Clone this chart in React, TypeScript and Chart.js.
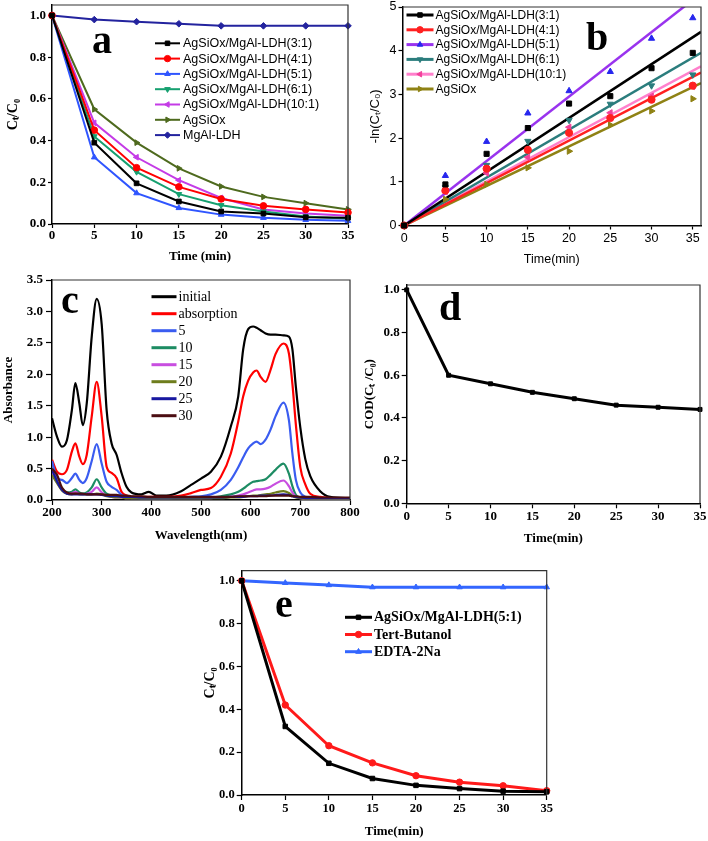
import React, { useEffect, useRef } from 'react';
import { Chart, registerables } from 'chart.js';

Chart.register(...registerables);

const PAGE_W = 708;
const PAGE_H = 841;
const SERIF = '"Liberation Serif", "Times New Roman", serif';
const SANS = '"Liberation Sans", Arial, sans-serif';

// ---------------- data ----------------
const timePoints = [0, 5, 10, 15, 20, 25, 30, 35];

// panel a : Ct/C0 vs time
const labelsA = [
  'AgSiOx/MgAl-LDH(3:1)',
  'AgSiOx/MgAl-LDH(4:1)',
  'AgSiOx/MgAl-LDH(5:1)',
  'AgSiOx/MgAl-LDH(6:1)',
  'AgSiOx/MgAl-LDH(10:1)',
  'AgSiOx',
  'MgAl-LDH',
];
const a31 = [1.0, 0.39, 0.195, 0.108, 0.06, 0.05, 0.032, 0.03];
const a41 = [1.0, 0.45, 0.27, 0.178, 0.12, 0.087, 0.07, 0.055];
const a51 = [1.0, 0.32, 0.148, 0.077, 0.045, 0.03, 0.02, 0.015];
const a61 = [1.0, 0.42, 0.25, 0.143, 0.09, 0.06, 0.036, 0.025];
const a101 = [1.0, 0.485, 0.32, 0.21, 0.125, 0.07, 0.05, 0.04];
const aAgSiOx = [1.0, 0.55, 0.39, 0.267, 0.18, 0.13, 0.1, 0.07];
const aMgAl = [1.0, 0.98, 0.97, 0.96, 0.95, 0.95, 0.95, 0.95];

// panel b : -ln(Ct/C0) vs time, points and fitted lines
const labelsB = [
  'AgSiOx/MgAl-LDH(3:1)',
  'AgSiOx/MgAl-LDH(4:1)',
  'AgSiOx/MgAl-LDH(5:1)',
  'AgSiOx/MgAl-LDH(6:1)',
  'AgSiOx/MgAl-LDH(10:1)',
  'AgSiOx',
];
const b31 = [0, 0.94, 1.64, 2.23, 2.79, 2.96, 3.6, 3.95];
const b41 = [0, 0.8, 1.3, 1.73, 2.12, 2.46, 2.88, 3.2];
const b51 = [0, 1.14, 1.92, 2.57, 3.08, 3.52, 4.28, 4.75];
const b61 = [0, 0.87, 1.38, 1.93, 2.41, 2.78, 3.2, 3.45];
const b101 = [0, 0.77, 1.2, 1.56, 2.25, 2.58, 2.96, 3.18];
const bAgSiOx = [0, 0.6, 0.94, 1.32, 1.7, 2.3, 2.62, 2.9];
const fitTimes = [0, 36];
const fit31 = [0, 4.43];
const fit41 = [0, 3.5];
const fit51 = [0, 5.31];
const fit61 = [0, 3.95];
const fit101 = [0, 3.64];
const fitAgSiOx = [0, 3.26];

// panel c : UV-vis spectra
const wavelengths = [200, 210, 220, 230, 240, 247, 255, 262, 270, 280, 290, 300, 310, 320, 330, 340, 350, 360, 380, 395, 410, 430, 460, 480, 500, 520, 540, 560, 575, 585, 595, 605, 612, 620, 630, 640, 650, 666, 677, 684, 691, 700, 710, 720, 740, 760, 800];
const specLabels = ['initial', 'absorption', '5', '10', '15', '20', '25', '30'];
const specInitial = [1.3, 1.01, 0.85, 0.95, 1.43, 1.86, 1.54, 1.19, 1.54, 2.6, 3.2, 2.8, 1.43, 0.9, 0.72, 0.43, 0.21, 0.12, 0.09, 0.13, 0.07, 0.07, 0.14, 0.24, 0.34, 0.45, 0.69, 1.17, 1.65, 2.4, 2.72, 2.76, 2.74, 2.7, 2.65, 2.63, 2.63, 2.62, 2.6, 2.4, 1.8, 1.15, 0.65, 0.38, 0.14, 0.05, 0.03];
const specAbsorption = [0.64, 0.45, 0.41, 0.48, 0.77, 0.9, 0.69, 0.57, 0.72, 1.33, 1.88, 1.33, 0.53, 0.43, 0.35, 0.13, 0.07, 0.05, 0.05, 0.05, 0.05, 0.05, 0.07, 0.11, 0.16, 0.19, 0.37, 0.74, 1.25, 1.65, 1.9, 2.03, 2.06, 1.96, 1.88, 2.07, 2.32, 2.49, 2.33, 1.85, 1.2, 0.52, 0.25, 0.1, 0.05, 0.03, 0.02];
const spec5 = [0.62, 0.35, 0.32, 0.27, 0.35, 0.42, 0.32, 0.27, 0.35, 0.62, 0.89, 0.58, 0.29, 0.21, 0.16, 0.08, 0.05, 0.04, 0.03, 0.03, 0.03, 0.03, 0.04, 0.05, 0.06, 0.09, 0.16, 0.32, 0.52, 0.68, 0.82, 0.9, 0.93, 0.89, 0.96, 1.12, 1.33, 1.55, 1.27, 0.74, 0.32, 0.12, 0.05, 0.04, 0.03, 0.02, 0.02];
const spec10 = [0.45, 0.3, 0.18, 0.12, 0.13, 0.17, 0.12, 0.1, 0.12, 0.2, 0.33, 0.2, 0.1, 0.07, 0.06, 0.05, 0.04, 0.03, 0.03, 0.03, 0.03, 0.03, 0.03, 0.03, 0.03, 0.04, 0.06, 0.09, 0.13, 0.18, 0.24, 0.29, 0.3, 0.31, 0.33, 0.4, 0.48, 0.58, 0.42, 0.22, 0.08, 0.04, 0.03, 0.03, 0.02, 0.02, 0.02];
const spec15 = [0.42, 0.28, 0.16, 0.11, 0.11, 0.13, 0.1, 0.09, 0.1, 0.13, 0.2, 0.12, 0.07, 0.05, 0.04, 0.04, 0.03, 0.03, 0.03, 0.03, 0.03, 0.03, 0.03, 0.03, 0.03, 0.03, 0.04, 0.05, 0.07, 0.09, 0.12, 0.15, 0.17, 0.17, 0.18, 0.21, 0.26, 0.31, 0.22, 0.12, 0.05, 0.03, 0.02, 0.02, 0.02, 0.02, 0.02];
const spec20 = [0.4, 0.27, 0.15, 0.1, 0.09, 0.1, 0.09, 0.09, 0.09, 0.09, 0.1, 0.09, 0.06, 0.05, 0.04, 0.04, 0.03, 0.03, 0.03, 0.03, 0.03, 0.03, 0.03, 0.03, 0.03, 0.03, 0.03, 0.04, 0.04, 0.05, 0.06, 0.07, 0.07, 0.08, 0.09, 0.1, 0.12, 0.14, 0.11, 0.07, 0.04, 0.03, 0.02, 0.02, 0.02, 0.02, 0.02];
const spec25 = [0.48, 0.3, 0.16, 0.1, 0.09, 0.09, 0.09, 0.09, 0.09, 0.09, 0.09, 0.08, 0.07, 0.06, 0.06, 0.05, 0.05, 0.05, 0.04, 0.04, 0.04, 0.04, 0.04, 0.04, 0.04, 0.04, 0.04, 0.05, 0.05, 0.05, 0.06, 0.06, 0.06, 0.07, 0.07, 0.07, 0.08, 0.09, 0.08, 0.06, 0.05, 0.04, 0.03, 0.03, 0.03, 0.03, 0.03];
const spec30 = [0.5, 0.4, 0.2, 0.12, 0.1, 0.1, 0.1, 0.1, 0.09, 0.09, 0.09, 0.09, 0.08, 0.08, 0.08, 0.07, 0.07, 0.06, 0.06, 0.05, 0.05, 0.05, 0.05, 0.05, 0.05, 0.05, 0.05, 0.05, 0.06, 0.06, 0.06, 0.06, 0.06, 0.06, 0.06, 0.07, 0.07, 0.07, 0.07, 0.06, 0.06, 0.05, 0.05, 0.05, 0.04, 0.04, 0.04];

// panel d : COD
const codRatio = [1.0, 0.6, 0.56, 0.52, 0.49, 0.46, 0.45, 0.44];

// panel e : scavengers
const labelsE = ['AgSiOx/MgAl-LDH(5:1)', 'Tert-Butanol', 'EDTA-2Na'];
const eCatalyst = [1.0, 0.32, 0.148, 0.077, 0.045, 0.03, 0.018, 0.015];
const eTertButanol = [1.0, 0.42, 0.23, 0.15, 0.09, 0.06, 0.043, 0.02];
const eEDTA = [1.0, 0.99, 0.98, 0.97, 0.97, 0.97, 0.97, 0.97];

// ---------------- styles ----------------
const colorsA = ['#000000', '#ff0000', '#2f55ff', '#16a070', '#c43be6', '#4e6a1e', '#23239e'];
const stylesA = ['rect', 'circle', 'triangle', 'triangle', 'triangle', 'triangle', 'rectRot'];
const rotA = [0, 0, 0, 180, 270, 90, 0];
const lineColorsB = ['#000000', '#ff2020', '#9933ee', '#2b7d7d', '#ff80cc', '#8f8214'];
const markColorsB = ['#000000', '#ff2020', '#2727ee', '#2b7d7d', '#f2409a', '#8f8214'];
const colorsC = ['#000000', '#ff0000', '#3a5cf0', '#1d8c63', '#c84ee0', '#6e7d1d', '#1818a0', '#4b0d12'];
const colorsE = ['#000000', '#ff1a1a', '#3366ff'];
const stylesE = ['rect', 'circle', 'triangle'];

const xy = (xs: number[], ys: number[]) => xs.map((x, i) => ({ x, y: ys[i] }));

function drawMarker(ctx: any, style: string, x: number, y: number, r: number, rotDeg: number, color: string) {
  ctx.save();
  ctx.fillStyle = color;
  ctx.strokeStyle = color;
  ctx.lineWidth = 1;
  ctx.translate(x, y);
  ctx.rotate((rotDeg * Math.PI) / 180);
  ctx.beginPath();
  if (style === 'rect') {
    const s = r * Math.SQRT1_2;
    ctx.rect(-s, -s, 2 * s, 2 * s);
  } else if (style === 'circle') {
    ctx.arc(0, 0, r, 0, Math.PI * 2);
  } else if (style === 'rectRot') {
    ctx.moveTo(0, -r);
    ctx.lineTo(r, 0);
    ctx.lineTo(0, r);
    ctx.lineTo(-r, 0);
    ctx.closePath();
  } else {
    let a = 0;
    ctx.moveTo(Math.sin(a) * r, -Math.cos(a) * r);
    a += (2 * Math.PI) / 3;
    ctx.lineTo(Math.sin(a) * r, -Math.cos(a) * r);
    a += (2 * Math.PI) / 3;
    ctx.lineTo(Math.sin(a) * r, -Math.cos(a) * r);
    ctx.closePath();
  }
  ctx.fill();
  ctx.stroke();
  ctx.restore();
}

function decoPlugin(d: any) {
  return {
    id: 'deco',
    afterDatasetsDraw(chart: any) {
      if (!d.frame) return;
      const { ctx, chartArea: a } = chart;
      ctx.save();
      ctx.strokeStyle = '#333';
      ctx.lineWidth = 1.2;
      ctx.beginPath();
      ctx.moveTo(a.left, a.top);
      ctx.lineTo(a.right, a.top);
      ctx.lineTo(a.right, a.bottom);
      ctx.stroke();
      ctx.restore();
    },
    afterDraw(chart: any) {
      const ctx = chart.ctx;
      ctx.save();
      ctx.fillStyle = '#000';
      ctx.font = `bold 40px ${SERIF}`;
      ctx.textAlign = 'left';
      ctx.textBaseline = 'alphabetic';
      ctx.fillText(d.letter.text, d.letter.x, d.letter.y);
      const L = d.legend;
      if (L) {
        L.entries.forEach((e: any, i: number) => {
          const y = L.y0 + i * L.dy;
          ctx.strokeStyle = e.line;
          ctx.lineWidth = L.lineWidth;
          ctx.beginPath();
          ctx.moveTo(L.x0, y);
          ctx.lineTo(L.x0 + L.len, y);
          ctx.stroke();
          if (e.marker) drawMarker(ctx, e.marker, L.x0 + L.len / 2, y, L.radius, e.rotation || 0, e.markerColor || e.line);
          ctx.fillStyle = '#000';
          ctx.font = L.font;
          ctx.textAlign = 'left';
          ctx.textBaseline = 'middle';
          ctx.fillText(e.label, L.x0 + L.len + L.gap, y + 0.5);
        });
      }
      ctx.restore();
    },
  };
}

function buildScales(g: any, xs: any, ys: any) {
  const yLh = ys.titleFont.size * 1.2;
  const xLh = xs.titleFont.size * 1.2;
  const yLeft = g.yTitleX - yLh / 2;
  const xBottom = g.xTitleY + xLh / 2;
  const padding = { left: yLeft, top: g.T, right: PAGE_W - g.R, bottom: PAGE_H - xBottom };
  const mk = (s: any, horizontal: boolean) => ({
    type: 'linear',
    position: horizontal ? 'bottom' : 'left',
    min: s.min,
    max: s.max,
    ticks: {
      stepSize: s.step,
      includeBounds: false,
      autoSkip: false,
      maxRotation: 0,
      minRotation: 0,
      padding: s.tickPad,
      color: '#000',
      font: s.tickFont,
      callback: (v: any) => Number(v).toFixed(s.decimals),
    },
    grid: {
      display: true,
      drawOnChartArea: false,
      drawTicks: true,
      tickLength: s.tickLen,
      tickColor: '#000',
      tickWidth: 1.2,
    },
    border: { display: true, color: '#000', width: 1.5 },
    title: { display: true, text: s.title, color: '#000', font: s.titleFont, padding: 0 },
    afterFit: (sc: any) => {
      if (horizontal) sc.height = xBottom - g.B;
      else sc.width = g.L - yLeft;
      sc.paddingTop = 0;
      sc.paddingBottom = 0;
      sc.paddingLeft = 0;
      sc.paddingRight = 0;
    },
  });
  return { padding, scales: { x: mk(xs, true), y: mk(ys, false) } };
}

function makeConfig(geom: any, xs: any, ys: any, datasets: any[], deco: any) {
  const { padding, scales } = buildScales(geom, xs, ys);
  return {
    type: 'line',
    data: { datasets },
    options: {
      responsive: false,
      maintainAspectRatio: false,
      animation: false,
      devicePixelRatio: 1,
      events: [],
      layout: { padding },
      plugins: { legend: { display: false }, tooltip: { enabled: false }, title: { display: false } },
      elements: { line: { tension: 0 } },
      scales,
    },
    plugins: [decoPlugin(deco)],
  } as any;
}

const serifBold = (size: number) => ({ family: SERIF, size, weight: 'bold' });
const sans = (size: number) => ({ family: SANS, size, weight: 'normal' });

// ---------------- panel configs ----------------
function configA() {
  const series = [a31, a41, a51, a61, a101, aAgSiOx, aMgAl];
  const datasets = series.map((ys, i) => ({
    label: labelsA[i],
    data: xy(timePoints, ys),
    borderColor: colorsA[i],
    backgroundColor: colorsA[i],
    borderWidth: 2,
    pointStyle: stylesA[i],
    pointRotation: rotA[i],
    pointRadius: 3.3,
    pointBorderWidth: 1,
    clip: false,
  }));
  return makeConfig(
    { L: 52, T: 5, R: 348, B: 224, yTitleX: 13, xTitleY: 257 },
    { min: 0, max: 35, step: 5, decimals: 0, tickFont: serifBold(13), title: 'Time (min)', titleFont: serifBold(13), tickLen: 4, tickPad: 0 },
    { min: 0, max: 1.05, step: 0.2, decimals: 1, tickFont: serifBold(13), title: 'Cₜ/C₀', titleFont: serifBold(14), tickLen: 4, tickPad: 2 },
    datasets,
    {
      frame: true,
      letter: { text: 'a', x: 92, y: 53 },
      legend: {
        x0: 155, len: 25, gap: 3, y0: 43.3, dy: 15.3, font: `12.5px ${SANS}`, lineWidth: 2, radius: 3.2,
        entries: labelsA.map((l, i) => ({ label: l, line: colorsA[i], marker: stylesA[i], rotation: rotA[i] })),
      },
    }
  );
}

function configB() {
  const pts = [b31, b41, b51, b61, b101, bAgSiOx];
  const fits = [fit31, fit41, fit51, fit61, fit101, fitAgSiOx];
  const fitSets = fits.map((ys, i) => ({
    label: labelsB[i] + ' fit',
    data: xy(fitTimes, ys),
    borderColor: lineColorsB[i],
    backgroundColor: lineColorsB[i],
    borderWidth: 2.5,
    pointRadius: 0,
  }));
  const ptSets = pts.map((ys, i) => ({
    label: labelsB[i],
    data: xy(timePoints, ys),
    borderColor: markColorsB[i],
    backgroundColor: markColorsB[i],
    showLine: false,
    pointStyle: stylesA[i],
    pointRotation: rotA[i],
    pointRadius: 3.6,
    pointBorderWidth: 1,
    clip: false,
  }));
  return makeConfig(
    { L: 402.5, T: 7, R: 701, B: 225.5, yTitleX: 375, xTitleY: 260 },
    { min: -0.2, max: 36, step: 5, decimals: 0, tickFont: sans(12.5), title: 'Time(min)', titleFont: sans(12.5), tickLen: 4, tickPad: 2 },
    { min: 0, max: 5, step: 1, decimals: 0, tickFont: sans(12.5), title: '-ln(Cₜ/C₀)', titleFont: sans(13), tickLen: 4, tickPad: 2 },
    [...ptSets, ...fitSets],
    {
      frame: true,
      letter: { text: 'b', x: 586, y: 50 },
      legend: {
        x0: 406.5, len: 27, gap: 2, y0: 15, dy: 14.8, font: `12px ${SANS}`, lineWidth: 3, radius: 3.2,
        entries: labelsB.map((l, i) => ({ label: l, line: lineColorsB[i], marker: stylesA[i], rotation: rotA[i], markerColor: markColorsB[i] })),
      },
    }
  );
}

function configC() {
  const spectra = [specInitial, specAbsorption, spec5, spec10, spec15, spec20, spec25, spec30];
  const n = spectra.length;
  const datasets = spectra.map((ys, i) => ({
    label: specLabels[i],
    data: xy(wavelengths, ys),
    borderColor: colorsC[i],
    backgroundColor: colorsC[i],
    borderWidth: 2.2,
    pointRadius: 0,
    cubicInterpolationMode: 'monotone',
    order: n - i,
  }));
  return makeConfig(
    { L: 52, T: 280, R: 350, B: 500, yTitleX: 9, xTitleY: 536 },
    { min: 200, max: 800, step: 100, decimals: 0, tickFont: serifBold(13), title: 'Wavelength(nm)', titleFont: serifBold(13), tickLen: 5, tickPad: 0 },
    { min: 0, max: 3.5, step: 0.5, decimals: 1, tickFont: serifBold(13), title: 'Absorbance', titleFont: serifBold(13), tickLen: 6, tickPad: 3 },
    datasets,
    {
      frame: true,
      letter: { text: 'c', x: 61, y: 313 },
      legend: {
        x0: 151.5, len: 25, gap: 2, y0: 296.7, dy: 17, font: `14px ${SERIF}`, lineWidth: 3, radius: 0,
        entries: specLabels.map((l, i) => ({ label: l, line: colorsC[i] })),
      },
    }
  );
}

function configD() {
  const datasets = [
    {
      label: 'COD',
      data: xy(timePoints, codRatio),
      borderColor: '#000',
      backgroundColor: '#000',
      borderWidth: 3,
      pointStyle: 'rect',
      pointRadius: 2.8,
      pointBorderWidth: 1,
      clip: false,
    },
  ];
  return makeConfig(
    { L: 406.7, T: 285, R: 700, B: 503.3, yTitleX: 370, xTitleY: 539 },
    { min: 0, max: 35, step: 5, decimals: 0, tickFont: serifBold(13), title: 'Time(min)', titleFont: serifBold(13), tickLen: 5, tickPad: 1 },
    { min: 0, max: 1.023, step: 0.2, decimals: 1, tickFont: serifBold(13), title: 'COD(Cₜ /C₀)', titleFont: serifBold(13), tickLen: 5, tickPad: 2 },
    datasets,
    { frame: true, letter: { text: 'd', x: 439, y: 320 } }
  );
}

function configE() {
  const series = [eCatalyst, eTertButanol, eEDTA];
  const datasets = series.map((ys, i) => ({
    label: labelsE[i],
    data: xy(timePoints, ys),
    borderColor: colorsE[i],
    backgroundColor: colorsE[i],
    borderWidth: 3,
    pointStyle: stylesE[i],
    pointRadius: 3.2,
    pointBorderWidth: 1,
    clip: false,
  }));
  return makeConfig(
    { L: 241.7, T: 570.7, R: 546.7, B: 795, yTitleX: 210, xTitleY: 832 },
    { min: 0, max: 35, step: 5, decimals: 0, tickFont: serifBold(12.5), title: 'Time(min)', titleFont: serifBold(13), tickLen: 5, tickPad: 1 },
    { min: 0, max: 1.047, step: 0.2, decimals: 1, tickFont: serifBold(12.5), title: 'Cₜ/C₀', titleFont: serifBold(14), tickLen: 5, tickPad: 2 },
    datasets,
    {
      frame: true,
      letter: { text: 'e', x: 275, y: 617 },
      legend: {
        x0: 345, len: 27, gap: 2, y0: 617.3, dy: 17.2, font: `bold 14px ${SERIF}`, lineWidth: 3, radius: 3.2,
        entries: labelsE.map((l, i) => ({ label: l, line: colorsE[i], marker: stylesE[i] })),
      },
    }
  );
}

const builders = [configA, configB, configC, configD, configE];

export default function App() {
  const r0 = useRef<HTMLCanvasElement>(null);
  const r1 = useRef<HTMLCanvasElement>(null);
  const r2 = useRef<HTMLCanvasElement>(null);
  const r3 = useRef<HTMLCanvasElement>(null);
  const r4 = useRef<HTMLCanvasElement>(null);
  const refs = [r0, r1, r2, r3, r4];

  useEffect(() => {
    const charts = builders.map((b, i) => new Chart(refs[i].current as HTMLCanvasElement, b()));
    return () => charts.forEach((c) => c.destroy());
  }, []);

  return (
    <div style={{ position: 'fixed', left: 0, top: 0, width: PAGE_W, height: PAGE_H, background: '#fff' }}>
      {refs.map((r, i) => (
        <canvas
          key={i}
          ref={r}
          width={PAGE_W}
          height={PAGE_H}
          style={{ position: 'absolute', left: 0, top: 0, width: PAGE_W, height: PAGE_H }}
        />
      ))}
    </div>
  );
}
